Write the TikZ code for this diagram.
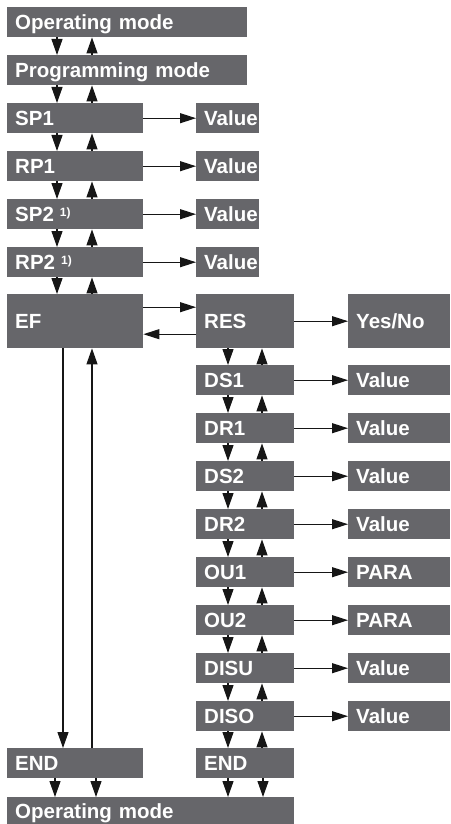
\documentclass[tikz,border=0pt]{standalone}
\usepackage{fontspec}
\setmainfont{Liberation Sans}
\usetikzlibrary{arrows.meta}
\definecolor{boxgray}{RGB}{102,102,106}
\definecolor{arrowblack}{RGB}{22,22,22}
\newcommand\supone{\hspace{6pt}\raisebox{5.5pt}{\fontsize{12}{12}\selectfont 1)}}
\begin{document}
\begin{tikzpicture}[x=1pt,y=-1pt,
  box/.style={fill=boxgray, draw=none, anchor=north west, inner xsep=8pt, inner ysep=0pt,
    text=white, font=\fontsize{20.5}{24}\selectfont\bfseries, text height=14.7pt, text depth=0pt, align=left},
  varr/.style={-{Triangle[length=16pt,width=11pt]}, line width=1.1pt, draw=arrowblack, fill=arrowblack},
  harr/.style={-{Triangle[length=16pt,width=10pt]}, line width=1.1pt, draw=arrowblack, fill=arrowblack},
  plain/.style={line width=1.1pt, draw=arrowblack}]
\useasboundingbox (0,0) rectangle (450,824);
% left column
\node[box, minimum width=240pt, text width=224pt, minimum height=30pt] (op1) at (7,7) {Operating mode};
\node[box, minimum width=240pt, text width=224pt, minimum height=30pt] (prog) at (7,55) {Programming mode};
\node[box, minimum width=136pt, text width=120pt, minimum height=30pt] (sp1) at (7,103) {SP1};
\node[box, minimum width=136pt, text width=120pt, minimum height=30pt] (rp1) at (7,151) {RP1};
\node[box, minimum width=136pt, text width=120pt, minimum height=30pt] (sp2) at (7,199) {SP2\supone};
\node[box, minimum width=136pt, text width=120pt, minimum height=30pt] (rp2) at (7,247) {RP2\supone};
\node[box, minimum width=136pt, text width=120pt, minimum height=54pt] (ef) at (7,294) {EF};
\node[box, minimum width=136pt, text width=120pt, minimum height=30pt] (endl) at (7,748) {END};
\node[box, minimum width=287pt, text width=271pt, minimum height=27pt] (op2) at (7,797) {Operating mode};
% middle values
\node[box, minimum width=63pt, text width=47pt, minimum height=30pt] (v1) at (196,103) {Value};
\node[box, minimum width=63pt, text width=47pt, minimum height=30pt] (v2) at (196,151) {Value};
\node[box, minimum width=63pt, text width=47pt, minimum height=30pt] (v3) at (196,199) {Value};
\node[box, minimum width=63pt, text width=47pt, minimum height=30pt] (v4) at (196,247) {Value};
% right column
\node[box, minimum width=98pt, text width=82pt, minimum height=54pt] (res) at (196,294) {RES};
\node[box, minimum width=102pt, text width=86pt, minimum height=54pt] (yes) at (348,294) {Yes/No};
\foreach \n/\t/\v/\y in {ds1/DS1/Value/365, dr1/DR1/Value/413, ds2/DS2/Value/461, dr2/DR2/Value/509,
  ou1/OU1/PARA/557, ou2/OU2/PARA/605, disu/DISU/Value/653, diso/DISO/Value/701}{
  \node[box, minimum width=98pt, text width=82pt, minimum height=30pt] (\n) at (196,\y) {\t};
  \node[box, minimum width=102pt, text width=86pt, minimum height=30pt] (\n v) at (348,\y) {\v};
  \draw[harr] (\n.east) -- (\n v.west);
}
\node[box, minimum width=98pt, text width=82pt, minimum height=30pt] (endr) at (196,748) {END};
% column x coordinates
\coordinate (xa) at (57,0);
\coordinate (xb) at (92,0);
\coordinate (xc) at (228,0);
\coordinate (xd) at (262,0);
\coordinate (xe) at (63,0);
\coordinate (xf) at (55,0);
\coordinate (xg) at (96,0);
\coordinate (xh) at (263,0);
% left vertical arrows
\foreach \a/\b in {op1/prog, prog/sp1, sp1/rp1, rp1/sp2, sp2/rp2, rp2/ef}{
  \draw[varr] (xa |- \a.south) -- (xa |- \b.north);
  \draw[varr] (xb |- \b.north) -- (xb |- \a.south);
}
\draw[varr] (xe |- ef.south) -- (xe |- endl.north);
\draw[varr] (xb |- endl.north) -- (xb |- ef.south);
\draw[varr] (xf |- endl.south) -- (xf |- op2.north);
\draw[varr] (xg |- endl.south) -- (xg |- op2.north);
% horizontal arrows to values
\draw[harr] (sp1.east) -- (v1.west);
\draw[harr] (rp1.east) -- (v2.west);
\draw[harr] (sp2.east) -- (v3.west);
\draw[harr] (rp2.east) -- (v4.west);
\draw[harr] ([yshift=14pt]ef.east) -- ([yshift=14pt]res.west);
\draw[harr] ([yshift=-13pt]res.west) -- ([yshift=-13pt]ef.east);
\draw[harr] (res.east) -- (yes.west);
% right vertical arrows
\foreach \a/\b in {res/ds1, ds1/dr1, dr1/ds2, ds2/dr2, dr2/ou1, ou1/ou2, ou2/disu, disu/diso, diso/endr}{
  \draw[varr] (xc |- \a.south) -- (xc |- \b.north);
  \draw[varr] (xd |- \b.north) -- (xd |- \a.south);
}
\draw[varr] (xc |- endr.south) -- (xc |- op2.north);
\draw[varr] (xh |- endr.south) -- (xh |- op2.north);
\end{tikzpicture}
\end{document}
